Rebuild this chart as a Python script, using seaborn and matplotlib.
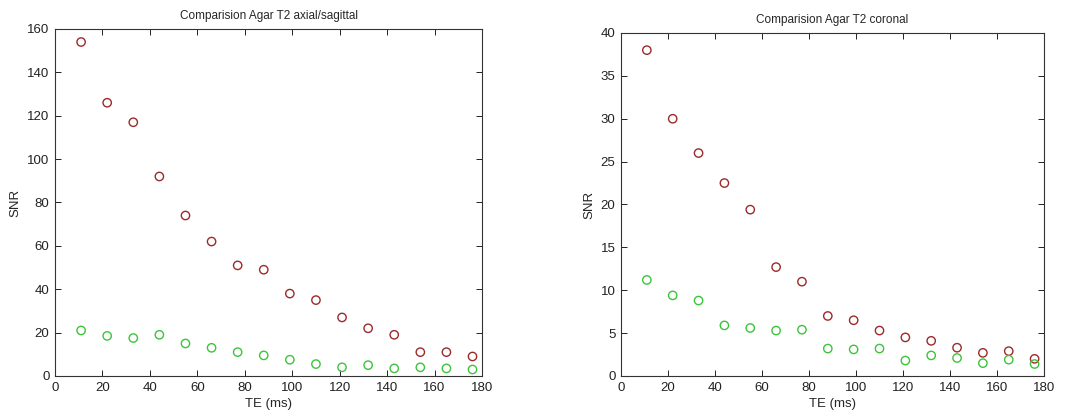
import matplotlib
matplotlib.use("Agg")
import matplotlib.pyplot as plt
import seaborn as sns
import pandas as pd

te = [11, 22, 33, 44, 55, 66, 77, 88, 99, 110, 121, 132, 143, 154, 165, 176]
axial_red = [154, 126, 117, 92, 74, 62, 51, 49, 38, 35, 27, 22, 19, 11, 11, 9]
axial_green = [21, 18.5, 17.5, 19, 15, 13, 11, 9.5, 7.5, 5.5, 4, 5, 3.5, 4, 3.5, 3]
coronal_red = [38, 30, 26, 22.5, 19.4, 12.7, 11, 7, 6.5, 5.3, 4.5, 4.1, 3.3, 2.7, 2.9, 2.0]
coronal_green = [11.2, 9.4, 8.8, 5.9, 5.6, 5.3, 5.4, 3.2, 3.1, 3.2, 1.8, 2.4, 2.1, 1.5, 1.9, 1.4]

titles = ["Comparision Agar T2 axial/sagittal", "Comparision Agar T2 coronal"]
xticks = [0, 20, 40, 60, 80, 100, 120, 140, 160, 180]
yticks_axial = [0, 20, 40, 60, 80, 100, 120, 140, 160]
yticks_coronal = [0, 5, 10, 15, 20, 25, 30, 35, 40]

sns.set_style("white")
plt.rcParams['font.family'] = ['Liberation Sans', 'DejaVu Sans']
plt.rcParams['font.size'] = 8.5

fig = plt.figure(figsize=(10.75, 4.17), dpi=100)
W, H = 1075, 417
ax1 = fig.add_axes([55 / W, 1 - 376 / H, (482 - 55) / W, (376 - 29) / H])
ax2 = fig.add_axes([621 / W, 1 - 376 / H, (1044 - 621) / W, (376 - 33) / H])

red = "#9b2a2a"
green = "#3cc43c"

for ax, r, g, title, yt in [(ax1, axial_red, axial_green, titles[0], yticks_axial),
                             (ax2, coronal_red, coronal_green, titles[1], yticks_coronal)]:
    df = pd.DataFrame({"TE": te * 2, "SNR": r + g,
                       "series": ["red"] * len(te) + ["green"] * len(te)})
    for name, col in [("red", red), ("green", green)]:
        sub = df[df["series"] == name]
        sns.scatterplot(data=sub, x="TE", y="SNR", ax=ax, marker="o", s=36,
                        facecolor="none", edgecolor=col, linewidth=1.0, legend=False)
    ax.set_xlim(0, 180)
    ax.set_ylim(yt[0], yt[-1])
    ax.set_xticks(xticks)
    ax.set_yticks(yt)
    ax.set_title(title, fontsize=8.5, pad=7)
    ax.set_xlabel("TE (ms)", fontsize=9.5, labelpad=3)
    ax.set_ylabel("SNR", fontsize=9.5, labelpad=4)
    ax.tick_params(direction="in", length=4, width=0.7, top=True, right=True,
                   bottom=True, left=True, labelsize=9.5, pad=4, colors="#222222")
    for sp in ax.spines.values():
        sp.set_visible(True)
        sp.set_color("#333333")
        sp.set_linewidth(0.8)

fig.savefig("out.png", dpi=100, facecolor="white")
